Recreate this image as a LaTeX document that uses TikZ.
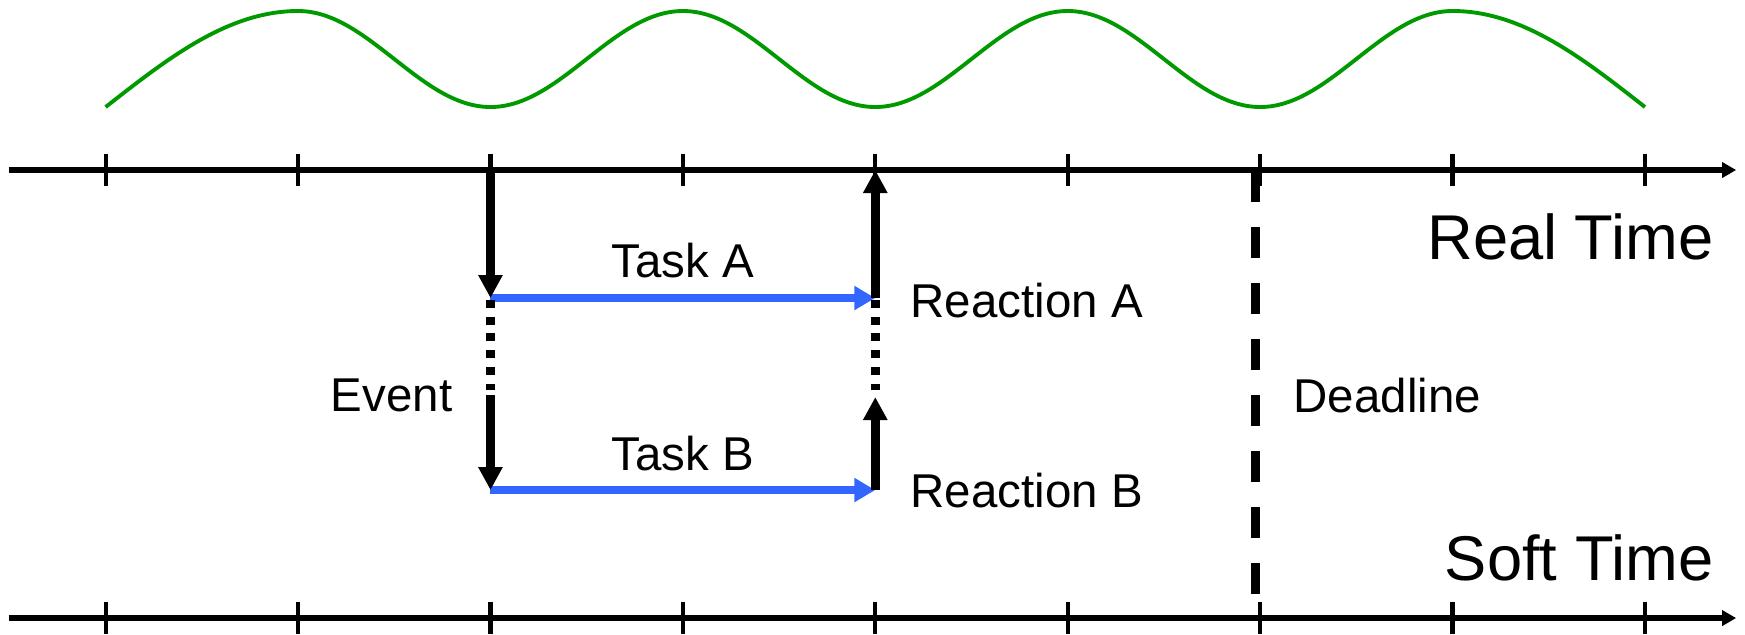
\documentclass[tikz,border=0pt]{standalone}
\usepackage{fontspec}
\setmainfont{Liberation Sans}
\usetikzlibrary{arrows.meta,positioning}
\definecolor{wavegreen}{HTML}{009900}
\definecolor{taskblue}{HTML}{3366FF}

\begin{document}
\begin{tikzpicture}[
x=1.924cm,y=1cm,
axis/.style={line width=1.7pt,-{Triangle[length=1.4mm,width=1.5mm]}},
tickmark/.style={line width=1.2pt},
wave/.style={line width=1.1pt,draw=wavegreen},
evarr/.style={line width=2.4pt,-{Triangle[length=2.3mm,width=2.3mm]}},
taskarr/.style={line width=2.2pt,color=taskblue,
-{Triangle[length=2.1mm,width=2.3mm]}},
gap/.style={line width=2.4pt,dash pattern=on 0.8mm off 0.87mm},
deadln/.style={line width=2.4pt,dash pattern=on 3.1mm off 2.5mm},
lbl/.style={font=\fontsize{13.5}{16}\selectfont,inner sep=0pt},
biglbl/.style={font=\fontsize{18}{21}\selectfont,inner sep=0pt}
]
\useasboundingbox (-0.549,-0.16) rectangle (8.520,6.18);

% time axes
\coordinate (rt0) at (-0.503,4.48);
\coordinate (rt1) at (8.474,4.48);
\coordinate (st0) at (-0.503,0);
\coordinate (st1) at (8.474,0);
\draw[axis] (rt0) -- (rt1);
\draw[axis] (st0) -- (st1);
\foreach \i in {0,...,8}{
\draw[tickmark] (\i,4.32) -- (\i,4.64);
\draw[tickmark] (\i,-0.16) -- (\i,0.16);
}

% clock wave
\draw[wave] (0,5.11) sin (1,6.07)
foreach \k in {1,3,5}{ cos (\k+0.5,5.59) sin (\k+1,5.11)
cos (\k+1.5,5.59) sin (\k+2,6.07) }
cos (8,5.11);

% event and reaction points
\coordinate (evtop) at (2,4.48);
\coordinate (evA)   at (2,3.20);
\coordinate (evdot) at (2,2.28);
\coordinate (evmid) at (2,2.23);
\coordinate (evB)   at (2,1.28);
\coordinate (rtop)  at (4,4.48);
\coordinate (rA)    at (4,3.20);
\coordinate (rdot)  at (4,2.28);
\coordinate (rmid)  at (4,2.21);
\coordinate (rB)    at (4,1.28);
\coordinate (dltop) at (5.975,4.47);
\coordinate (dlbot) at (5.975,0.23);

\foreach \a/\b in {evA/rA,evB/rB}
\draw[taskarr] (\a) -- (\b);
\foreach \a/\b in {evtop/evA,evmid/evB,rA/rtop,rB/rmid}
\draw[evarr] (\a) -- (\b);
\draw[gap] ([yshift=-0.2mm]evA) -- (evdot);
\draw[gap] ([yshift=-0.2mm]rA) -- (rdot);
\draw[deadln] (dltop) -- (dlbot);

% labels
\node[lbl,anchor=base] (taskA) at (3,3.41) {Task A};
\node[lbl,anchor=base] (taskB) at (3,1.48) {Task B};
\node[lbl,anchor=east] (event) at (1.805,2.23) {Event};
\node[lbl,anchor=west] (reacA) at (4.18,3.175) {Reaction A};
\node[lbl,anchor=west] (reacB) at (4.18,1.28) {Reaction B};
\node[lbl,anchor=west] (dline) at (6.171,2.23) {Deadline};
\node[biglbl,anchor=east] (real) at (8.359,3.815) {Real Time};
\node[biglbl,anchor=east] (soft) at (8.359,0.605) {Soft Time};
\end{tikzpicture}
\end{document}
